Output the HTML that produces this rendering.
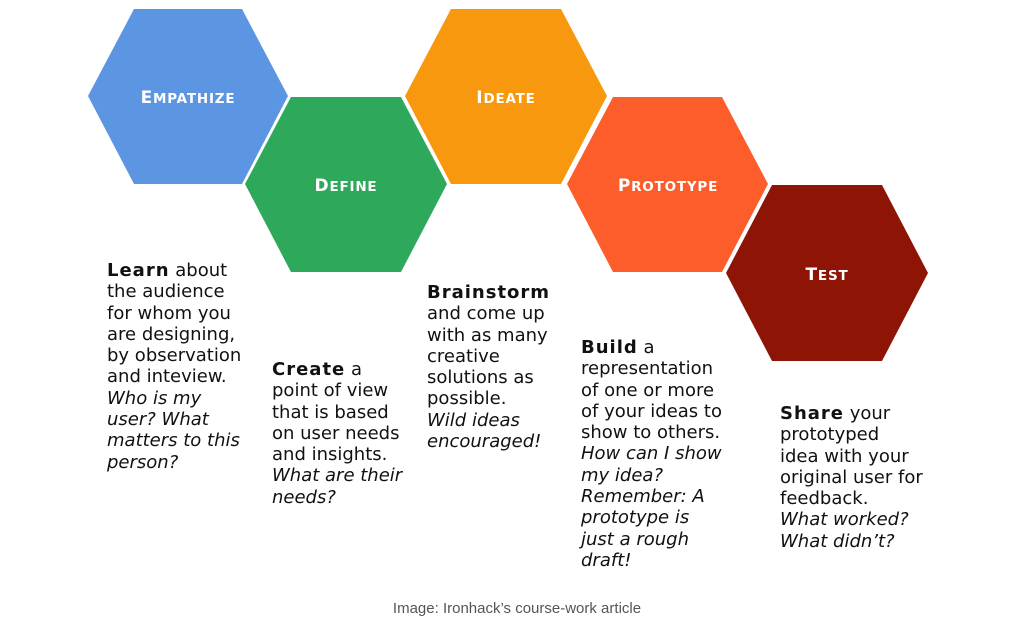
<!DOCTYPE html>
<html><head><meta charset="utf-8"><style>
body{margin:0;width:1024px;height:624px;background:#fff;position:relative;overflow:hidden;font-family:"DejaVu Sans","Liberation Sans",sans-serif;}
.t{position:absolute;font-size:18px;line-height:21.3px;color:#111;letter-spacing:0px;white-space:nowrap}
.t b{font-weight:600;letter-spacing:1px}
.t i{font-style:italic}
.cap{position:absolute;top:600px;left:0;width:1034px;text-align:center;font-family:"Liberation Sans",sans-serif;font-size:15px;color:#555}
svg text{font-family:"DejaVu Sans","Liberation Sans",sans-serif;font-weight:bold;fill:#fff;font-size:17px;text-anchor:middle;letter-spacing:0.8px}
</style></head><body>
<svg width="1024" height="624" style="position:absolute;left:0;top:0">
<polygon points="88,96 134,9 242,9 288,96 242,184 134,184" fill="#5c95e1"/>
<polygon points="245,184 291,97 401,97 447,184 401,272 291,272" fill="#2ea85b"/>
<polygon points="405,96 451,9 561,9 607,96 561,184 451,184" fill="#f7980e"/>
<polygon points="567,184 613,97 722,97 768,184 722,272 613,272" fill="#fc5d2a"/>
<polygon points="726,273 772,185 882,185 928,273 882,361 772,361" fill="#8e1406"/>
<text x="188" y="103">E<tspan font-size="13.5">MPATHIZE</tspan></text>
<text x="346" y="191">D<tspan font-size="13.5">EFINE</tspan></text>
<text x="506" y="103">I<tspan font-size="13.5">DEATE</tspan></text>
<text x="668" y="191">P<tspan font-size="13.5">ROTOTYPE</tspan></text>
<text x="827" y="280">T<tspan font-size="13.5">EST</tspan></text>
</svg>
<div class="t" style="left:107px;top:260px"><b>Learn</b> about<br>the audience<br>for whom you<br>are designing,<br>by observation<br>and inteview.<br><i>Who is my<br>user? What<br>matters to this<br>person?</i></div>
<div class="t" style="left:272px;top:359px"><b>Create</b> a<br>point of view<br>that is based<br>on user needs<br>and insights.<br><i>What are their<br>needs?</i></div>
<div class="t" style="left:427px;top:282px"><b>Brainstorm</b><br>and come up<br>with as many<br>creative<br>solutions as<br>possible.<br><i>Wild ideas<br>encouraged!</i></div>
<div class="t" style="left:581px;top:337px"><b>Build</b> a<br>representation<br>of one or more<br>of your ideas to<br>show to others.<br><i>How can I show<br>my idea?<br>Remember: A<br>prototype is<br>just a rough<br>draft!</i></div>
<div class="t" style="left:780px;top:403px"><b>Share</b> your<br>prototyped<br>idea with your<br>original user for<br>feedback.<br><i>What worked?<br>What didn’t?</i></div>
<div class="cap">Image: Ironhack’s course-work article</div>
</body></html>
